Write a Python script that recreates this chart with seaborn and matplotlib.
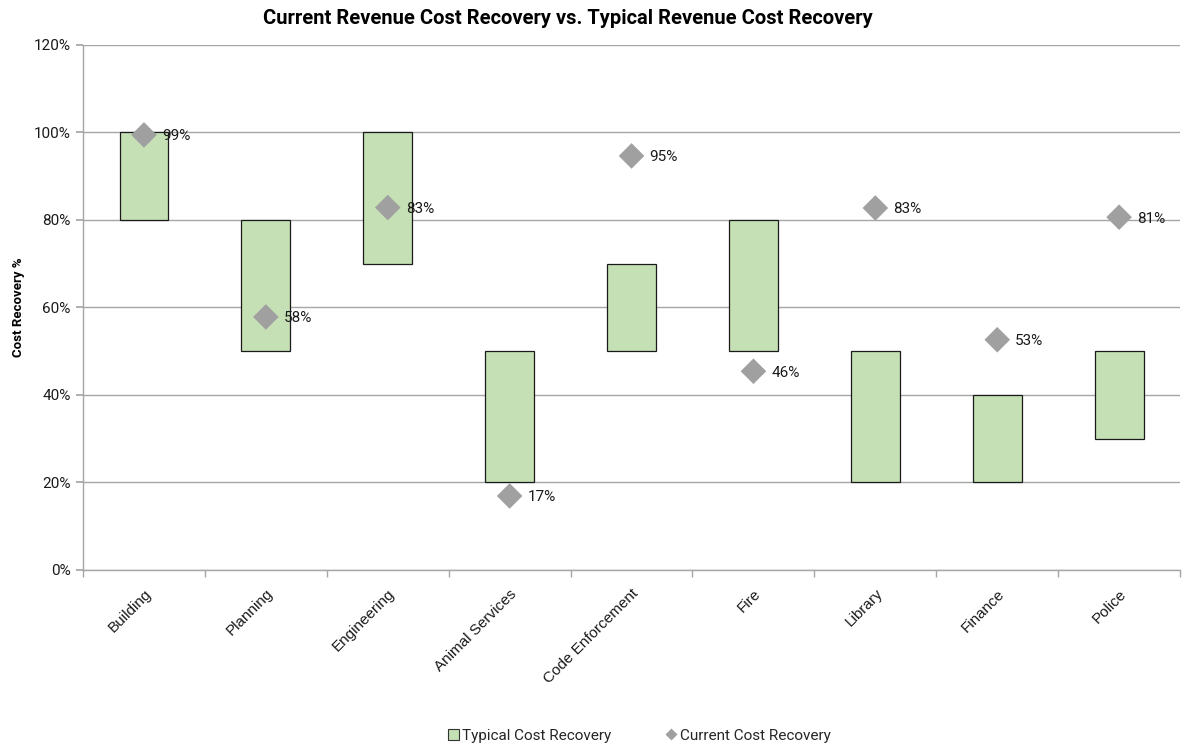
import matplotlib
matplotlib.use("Agg")
import matplotlib.pyplot as plt
import seaborn as sns
import pandas as pd
import numpy as np
from matplotlib.lines import Line2D
from matplotlib.patches import Patch
from matplotlib.ticker import FixedLocator, PercentFormatter

categories = ["Building", "Planning", "Engineering", "Animal Services", "Code Enforcement",
              "Fire", "Library", "Finance", "Police"]
typical_low = [80, 50, 70, 20, 50, 50, 20, 20, 30]
typical_high = [100, 80, 100, 50, 70, 80, 50, 40, 50]
current = [99.4, 57.8, 82.8, 16.9, 94.6, 45.4, 82.7, 52.6, 80.6]
current_labels = ["99%", "58%", "83%", "17%", "95%", "46%", "83%", "53%", "81%"]
yticks = [0, 20, 40, 60, 80, 100, 120]

sns.set_theme(style="white")
plt.rcParams['font.family'] = ['Roboto', 'DejaVu Sans']

df = pd.DataFrame({
    "cat": categories,
    "low": typical_low,
    "span": np.array(typical_high) - np.array(typical_low),
    "current": current,
})

fig = plt.figure(figsize=(11.86, 7.46), dpi=100)
ax = fig.add_axes([0.070, 0.236, 0.925, 0.704])

sns.barplot(data=df, x="cat", y="span", bottom=df["low"], color="#c5e0b4",
            saturation=1, width=0.4, edgecolor="#1a1a1a", linewidth=0.9, ax=ax, zorder=3)
sns.scatterplot(data=df, x="cat", y="current", marker="D", s=170, color="#a0a0a0",
                edgecolor="none", ax=ax, zorder=4, legend=False)

for i, (v, lab) in enumerate(zip(current, current_labels)):
    ax.annotate(lab, (i, v), xytext=(13, -1), textcoords="offset points",
                ha="left", va="center", fontsize=11, color="#1a1a1a", zorder=5)

ax.set_ylim(0, 120)
ax.set_xlim(-0.5, len(categories) - 0.5)
ax.set_yticks(yticks)
ax.yaxis.set_major_formatter(PercentFormatter(decimals=0))
ax.grid(axis="y", color="#a6a6a6", linewidth=1, zorder=0)
ax.grid(axis="x", visible=False)

for s in ["top", "right"]:
    ax.spines[s].set_visible(False)
for s in ["left", "bottom"]:
    ax.spines[s].set_color("#a6a6a6")
    ax.spines[s].set_linewidth(1)

ax.tick_params(axis="y", which="major", left=True, length=5, color="#a6a6a6",
               labelsize=11, labelcolor="#1a1a1a", pad=4)
ax.tick_params(axis="x", which="major", bottom=False, labelsize=11, labelcolor="#1a1a1a", pad=6)
ax.xaxis.set_minor_locator(FixedLocator(np.arange(-0.5, len(categories), 1.0)))
ax.tick_params(axis="x", which="minor", bottom=True, length=5, color="#a6a6a6")

ax.set_xticks(range(len(categories)))
ax.set_xticklabels(categories, rotation=45, ha="right", rotation_mode="anchor")
for t in ax.get_xticklabels():
    t.set_fontfamily(["Liberation Sans", "DejaVu Sans"])
    t.set_fontsize(11)
ax.set_xlabel("")
ax.set_ylabel("Cost Recovery %", fontsize=9.5, fontweight="bold", color="#000000", labelpad=6)

fig.suptitle("Current Revenue Cost Recovery vs. Typical Revenue Cost Recovery",
             x=0.4785, y=0.988, fontsize=14.5, fontweight="bold", color="#000000")

handles = [
    Patch(facecolor="#c5e0b4", edgecolor="#333333", linewidth=0.8, label="Typical Cost Recovery"),
    Line2D([0], [0], marker="D", linestyle="none", markersize=6, markerfacecolor="#a0a0a0",
           markeredgecolor="none", label="Current Cost Recovery"),
]
fig.legend(handles=handles, loc="center", bbox_to_anchor=(0.539, 0.014), ncol=2, frameon=False,
           fontsize=11, handlelength=0.7, handleheight=0.7, handletextpad=0.2, columnspacing=3.6)

fig.savefig("out.png", dpi=100, facecolor="white")
